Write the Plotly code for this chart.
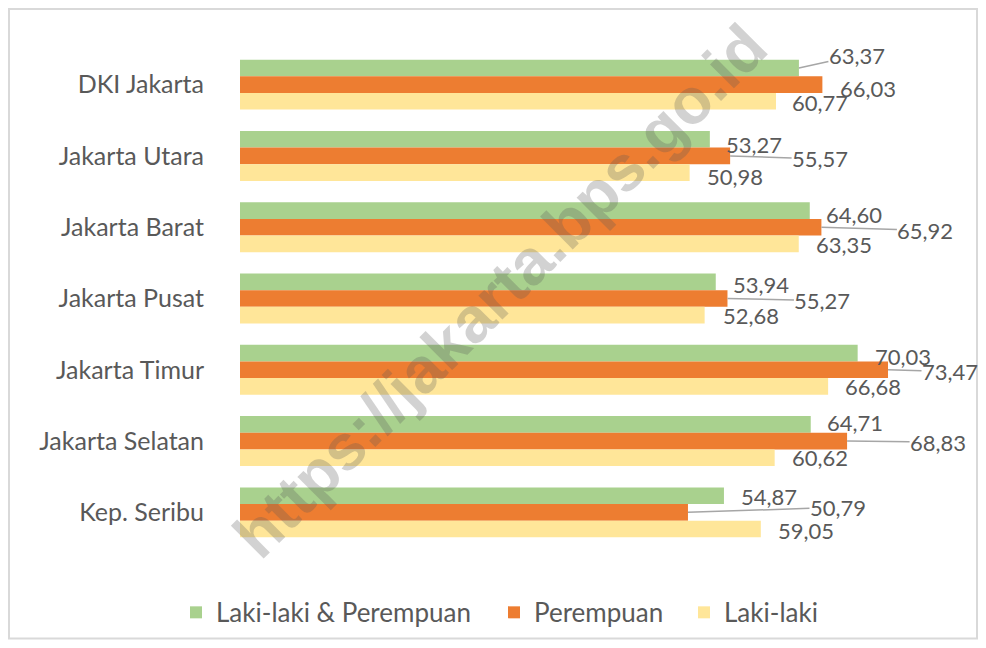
import plotly.graph_objects as go

# ---- data ----
categories = ["DKI Jakarta", "Jakarta Utara", "Jakarta Barat", "Jakarta Pusat",
              "Jakarta Timur", "Jakarta Selatan", "Kep. Seribu"]
total = [63.37, 53.27, 64.60, 53.94, 70.03, 64.71, 54.87]
female = [66.03, 55.57, 65.92, 55.27, 73.47, 68.83, 50.79]
male = [60.77, 50.98, 63.35, 52.68, 66.68, 60.62, 59.05]
series_names = ["Laki-laki & Perempuan", "Perempuan", "Laki-laki"]

# ---- style ----
colors = ["#A9D18E", "#ED7D31", "#FFE699"]
text_color = "#595959"
font_family = "Lato, 'Open Sans', sans-serif"
bargap = 0.3
n_series = 3
bar_w = (1 - bargap) / n_series
offsets = [(k - (n_series - 1) / 2) * bar_w for k in range(n_series)]

# label pixel offsets (dx, dy screen px, leader line?) per series per category
label_offsets = [
    [(58, -13, True), (44, 5, False), (44, 4, False), (45, 3, False),
     (45, 3, False), (44, -2, False), (45, 1, False)],
    [(46, 4, False), (90, 3, True), (104, 3, True), (95, 2, True),
     (62, 2, True), (91, 1, True), (150, -5, True)],
    [(44, 1, False), (45, 4, False), (45, 1, False), (46, 0, False),
     (45, 0, False), (45, 0, False), (45, 2, False)],
]
# legend text start positions (screen px)
legend_text_x = [217, 535, 725]

ypos = list(range(len(categories)))
series = [total, female, male]
legend_ids = ["legend", "legend2", "legend3"]

fig = go.Figure()
for name, vals, col, lg in zip(series_names, series, colors, legend_ids):
    fig.add_trace(go.Bar(
        y=ypos, x=vals, name=name, orientation="h",
        marker=dict(color=col, line=dict(width=0)),
        hoverinfo="x+name", legend=lg,
    ))

annotations = []
for k, vals in enumerate(series):
    for i, v in enumerate(vals):
        dx, dy, leader = label_offsets[k][i]
        txt = f"{v:.2f}".replace(".", ",")
        base = dict(x=v, y=i + offsets[k], xref="x", yref="y", text=txt,
                    font=dict(family=font_family, size=22, color=text_color))
        if leader:
            annotations.append(dict(**base, showarrow=True, ax=dx, ay=dy,
                                    arrowhead=0, arrowwidth=1.5,
                                    arrowcolor="#A6A6A6", standoff=0,
                                    borderpad=0))
        else:
            annotations.append(dict(**base, showarrow=False, xshift=dx,
                                    yshift=-dy, borderpad=0))

# page has an 8px body margin: figure coordinates = screen - 8
OFF = 8
W, H = 986 - 2 * OFF, 648 - 2 * OFF
ml, mr, mt = 240 - OFF, 2, 49 - OFF
mb = H - (548.5 - OFF)
pw, ph = W - ml - mr, H - mt - mb


def px_x(p):
    return (p - OFF - ml) / pw


def px_y(p):
    return (H - mb - (p - OFF)) / ph


# watermark
annotations.append(dict(
    x=px_x(500), y=px_y(291), xref="paper", yref="paper",
    text="<b>https://jakarta.bps.go.id</b>", showarrow=False,
    textangle=-45,
    font=dict(family="Liberation Sans, Arial, sans-serif", size=64,
              color="rgba(90,90,90,0.27)"),
))

legend_common = dict(
    orientation="h", xanchor="left", yanchor="middle",
    y=px_y(613), bgcolor="rgba(0,0,0,0)",
    font=dict(family=font_family, size=26, color=text_color),
)

fig.update_layout(
    width=W, height=H,
    margin=dict(l=ml, r=mr, t=mt, b=mb),
    paper_bgcolor="white", plot_bgcolor="white",
    barmode="group", bargap=bargap, bargroupgap=0,
    xaxis=dict(range=[0, pw / 8.82], visible=False, fixedrange=True),
    yaxis=dict(
        tickvals=ypos, ticktext=categories,
        range=[6.5, -0.5], autorange=False,
        showgrid=False, zeroline=False, showline=False,
        ticks="", ticklabelstandoff=35,
        tickfont=dict(family=font_family, size=25, color=text_color),
    ),
    legend=dict(**legend_common, x=px_x(legend_text_x[0] - 41)),
    legend2=dict(**legend_common, x=px_x(legend_text_x[1] - 41)),
    legend3=dict(**legend_common, x=px_x(legend_text_x[2] - 41)),
    annotations=annotations,
    shapes=[dict(type="rect", xref="paper", yref="paper",
                 x0=px_x(9), x1=px_x(977), y0=px_y(639), y1=px_y(9),
                 line=dict(color="#D9D9D9", width=2), layer="below")],
    showlegend=True,
)

fig.write_html("out.html")
